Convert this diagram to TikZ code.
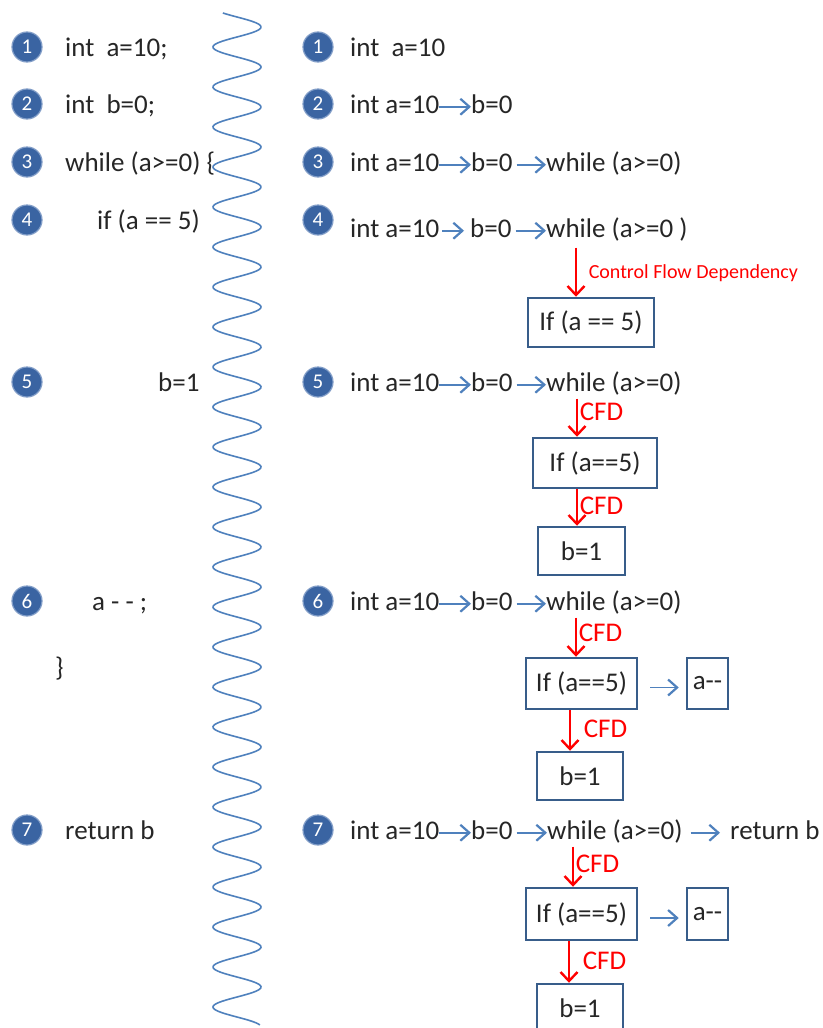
\documentclass[tikz,border=0pt]{standalone}
\usepackage{fontspec}
\setmainfont{Carlito}
\usetikzlibrary{arrows.meta,calc}
\definecolor{txt}{RGB}{38,38,38}
\definecolor{circfill}{RGB}{58,100,162}
\definecolor{circline}{RGB}{130,158,200}
\definecolor{flow}{RGB}{79,129,189}
\definecolor{boxline}{RGB}{56,93,138}
\definecolor{cfdred}{RGB}{255,0,0}
\begin{document}
\begin{tikzpicture}[x=1pt,y=-1pt,
  code/.style={anchor=base west, inner sep=0pt, text=txt, font=\fontsize{27}{31}\selectfont, text height=19pt, text depth=6.5pt},
  num/.style={circle, fill=circfill, draw=circline, line width=1.2pt, minimum size=30pt, inner sep=0pt, text=white, font=\fontsize{21}{24}\selectfont},
  stmt/.style={draw=boxline, line width=2.5pt, text=txt, font=\fontsize{27}{31}\selectfont, inner sep=0pt},
  seq/.style={draw=flow, line width=1.8pt, -{Straight Barb[length=9pt,width=16pt,line width=2.2pt]}},
  cfd/.style={draw=cfdred, line width=1.5pt, -{Straight Barb[length=9pt,width=17pt,line width=2.4pt]}},
  cfdlab/.style={text=cfdred, font=\fontsize{27}{31}\selectfont, inner sep=0pt, anchor=west},
  wave/.style={draw=flow, line width=1.6pt},
]
\useasboundingbox (0,0) rectangle (822,1028);
\fill[white] (0,0) rectangle (822,1028);

% wavy separator
\draw[wave] plot[domain=0:1012, samples=900, smooth] ({237+24*sin(9*\x-36)},{13+\x});

% left column
\node[num] (L1) at (27,47) {1};
\node[code] (l1) at (65,56) {int~~a=10;};
\node[num] (L2) at (27,104) {2};
\node[code] (l2) at (65,113) {int~~b=0;};
\node[num] (L3) at (27,162) {3};
\node[code] (l3) at (65,171) {while (a>=0) \{};
\node[num] (L4) at (27,220) {4};
\node[code] (l4) at (97,229) {if (a == 5)};
\node[num] (L5) at (27,382) {5};
\node[code] (l5) at (158,391) {b=1};
\node[num] (L6) at (27,601) {6};
\node[code] (l6) at (92,610) {a - - ;};
\node[code] (l6b) at (55,676) {\}};
\node[num] (L7) at (27,830) {7};
\node[code] (l7) at (65,839) {return b};

% right column, step 1
\node[num] (R1) at (318,47) {1};
\node[code] (r1a) at (350,56) {int~~a=10};

% step 2
\node[num] (R2) at (318,104) {2};
\node[code] (r2a) at (350,113) {int a=10};
\node[code] (r2b) at (471,113) {b=0};
\draw[seq] (r2a) -- (r2b);

% step 3
\node[num] (R3) at (318,162) {3};
\node[code] (r3a) at (350,171) {int a=10};
\node[code] (r3b) at (471,171) {b=0};
\node[code] (r3c) at (546,171) {while (a>=0)};
\draw[seq] (r3a) -- (r3b);
\draw[seq, shorten <=4pt] (r3b) -- (r3c);

% step 4
\node[num] (R4) at (318,220) {4};
\node[code] (r4a) at (350,237) {int a=10};
\node[code] (r4b) at (470,237) {b=0};
\node[code] (r4c) at (546,237) {while (a>=0 )};
\draw[seq, shorten <=3pt, shorten >=6pt] (r4a) -- (r4b);
\draw[seq, shorten <=4pt] (r4b) -- (r4c);
\node[stmt, minimum width=126pt, minimum height=49pt] (if4) at (591,322.5) {If (a == 5)};
\coordinate (c4) at ([xshift=30pt]r4c.south west);
\draw[cfd, shorten <=4pt] (c4) -- (c4 |- if4.north)
  node[pos=0.55, anchor=west, xshift=12pt, text=cfdred, inner sep=0pt, font=\fontsize{20}{23}\selectfont] (lab4) {Control Flow Dependency};

% step 5
\node[num] (R5) at (318,382) {5};
\node[code] (r5a) at (350,391) {int a=10};
\node[code] (r5b) at (471,391) {b=0};
\node[code] (r5c) at (546,391) {while (a>=0)};
\draw[seq] (r5a) -- (r5b);
\draw[seq, shorten <=4pt] (r5b) -- (r5c);
\node[stmt, minimum width=124pt, minimum height=50pt] (if5) at (595,463) {If (a==5)};
\node[stmt, minimum width=87pt, minimum height=48pt] (b5) at (581.5,551) {b=1};
\coordinate (c5) at ([xshift=31pt]r5c.south west);
\draw[cfd, shorten <=1pt] (c5) -- (c5 |- if5.north)
  node[cfdlab, pos=0.36, xshift=2pt] (lab5a) {CFD};
\draw[cfd] (if5.south -| c5) -- (b5.north -| c5)
  node[cfdlab, pos=0.46, xshift=2pt] (lab5b) {CFD};

% step 6
\node[num] (R6) at (318,601) {6};
\node[code] (r6a) at (350,610) {int a=10};
\node[code] (r6b) at (471,610) {b=0};
\node[code] (r6c) at (546,610) {while (a>=0)};
\draw[seq] (r6a) -- (r6b);
\draw[seq, shorten <=4pt] (r6b) -- (r6c);
\node[stmt, minimum width=111pt, minimum height=51pt] (if6) at (581.5,683.5) {If (a==5)};
\node[stmt, minimum width=41pt, minimum height=51pt] (a6) at (707.5,683.5) {a-{}-};
\node[stmt, minimum width=86pt, minimum height=48pt] (b6) at (580,776) {b=1};
\draw[seq, shorten <=12pt, shorten >=7pt] ([yshift=-4pt]if6.east) -- ([yshift=-4pt]a6.west);
\coordinate (c6) at ([xshift=30pt]r6c.south west);
\coordinate (d6) at ([xshift=-11.5pt]if6.south);
\draw[cfd, shorten <=1pt] (c6) -- (c6 |- if6.north)
  node[cfdlab, pos=0.4, xshift=2pt] (lab6a) {CFD};
\draw[cfd] (d6) -- (d6 |- b6.north)
  node[cfdlab, pos=0.47, xshift=13pt] (lab6b) {CFD};

% step 7
\node[num] (R7) at (318,830) {7};
\node[code] (r7a) at (350,839) {int a=10};
\node[code] (r7b) at (471,839) {b=0};
\node[code] (r7c) at (547,839) {while (a>=0)};
\node[code] (r7d) at (730,839) {return b};
\draw[seq] (r7a) -- (r7b);
\draw[seq, shorten <=4pt] (r7b) -- (r7c);
\draw[seq, shorten <=8pt, shorten >=10pt] (r7c) -- (r7d);
\node[stmt, minimum width=111pt, minimum height=52pt] (if7) at (581.5,914) {If (a==5)};
\node[stmt, minimum width=41pt, minimum height=52pt] (a7) at (707.5,914) {a-{}-};
\node[stmt, minimum width=86pt, minimum height=48pt] (b7) at (580,1008) {b=1};
\draw[seq, shorten <=12pt, shorten >=7pt] ([yshift=-4pt]if7.east) -- ([yshift=-4pt]a7.west);
\coordinate (c7) at ([xshift=26pt]r7c.south west);
\coordinate (d7) at ([xshift=-12.5pt]if7.south);
\draw[cfd, shorten <=1pt] (c7) -- (c7 |- if7.north)
  node[cfdlab, pos=0.44, xshift=2pt] (lab7a) {CFD};
\draw[cfd] (d7) -- (d7 |- b7.north)
  node[cfdlab, pos=0.48, xshift=13pt] (lab7b) {CFD};
\end{tikzpicture}
\end{document}
